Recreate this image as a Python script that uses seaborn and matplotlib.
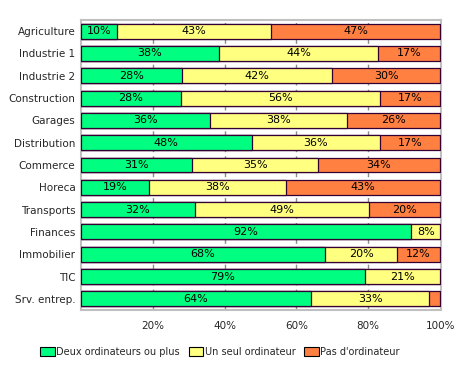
import numpy as np
import pandas as pd
import matplotlib
matplotlib.use("Agg")
import matplotlib.pyplot as plt
import seaborn as sns
from matplotlib.patches import Patch

# data
sectors = ["Agriculture", "Industrie 1", "Industrie 2", "Construction", "Garages",
           "Distribution", "Commerce", "Horeca", "Transports", "Finances",
           "Immobilier", "TIC", "Srv. entrep."]
deux = [10, 38, 28, 28, 36, 48, 31, 19, 32, 92, 68, 79, 64]
un_seul = [43, 44, 42, 56, 38, 36, 35, 38, 49, 8, 20, 21, 33]
aucun = [47, 17, 30, 17, 26, 17, 34, 43, 20, 0, 12, 0, 3]
series = ["Deux ordinateurs ou plus", "Un seul ordinateur", "Pas d'ordinateur"]
colors = ["#00FF80", "#FFFF80", "#FF8040"]
ticks = [20, 40, 60, 80, 100]

sns.set_style("white")
plt.rcParams["font.family"] = ["DejaVu Sans"]
plt.rcParams["font.size"] = 7.5

df = pd.DataFrame({"sector": sectors, "deux": deux, "un": un_seul, "aucun": aucun})
tot = df[["deux", "un", "aucun"]].sum(axis=1)
# 100% stacked: normalise each row
for c in ["deux", "un", "aucun"]:
    df[c + "_p"] = df[c] / tot * 100
df["c1"] = df["deux_p"]
df["c2"] = df["deux_p"] + df["un_p"]
df["c3"] = df["c2"] + df["aucun_p"]

fig = plt.figure(figsize=(4.6, 3.7), dpi=100)
ax = fig.add_axes([0.176, 0.162, 0.783, 0.784])

edge = "#330033"
for col, colr in zip(["c3", "c2", "c1"], colors[::-1]):
    sns.barplot(data=df, x=col, y="sector", orient="h", color=colr, width=0.67,
                edgecolor=edge, linewidth=0.9, saturation=1, ax=ax, zorder=3)

# dashed gridlines, visible in the gaps between bars
for t in ticks[:-1]:
    ax.axvline(t, color="#8C8C8C", linestyle=(0, (3, 3)), linewidth=1.0, zorder=2)

# segment labels
for i, row in df.iterrows():
    starts = [0, row["c1"], row["c2"]]
    for s, w, v in zip(starts, [row["deux_p"], row["un_p"], row["aucun_p"]],
                       [row["deux"], row["un"], row["aucun"]]):
        if v >= 5:
            ax.text(s + w / 2, i, f"{v}%", ha="center", va="center",
                    fontsize=8, color="black", zorder=4)

ax.set_xlim(0, 100.3)
ax.set_ylim(12.5, -0.5)
ax.set_xticks(ticks)
ax.set_xticklabels([f"{t}%" for t in ticks])
ax.set_xlabel("")
ax.set_ylabel("")
ax.tick_params(axis="both", length=0, pad=4)
ax.tick_params(axis="x", pad=8)
for s in ax.spines.values():
    s.set_color("#C0C0C0")
    s.set_linewidth(1.5)

handles = [Patch(facecolor=c, edgecolor="black", linewidth=0.8) for c in colors]
fig.legend(handles, series, loc="center", bbox_to_anchor=(0.478, 0.049), ncol=3,
           frameon=False, fontsize=7, handlelength=1.5, handleheight=0.9,
           handletextpad=0.15, columnspacing=0.9)

fig.savefig("out.png", dpi=100)
